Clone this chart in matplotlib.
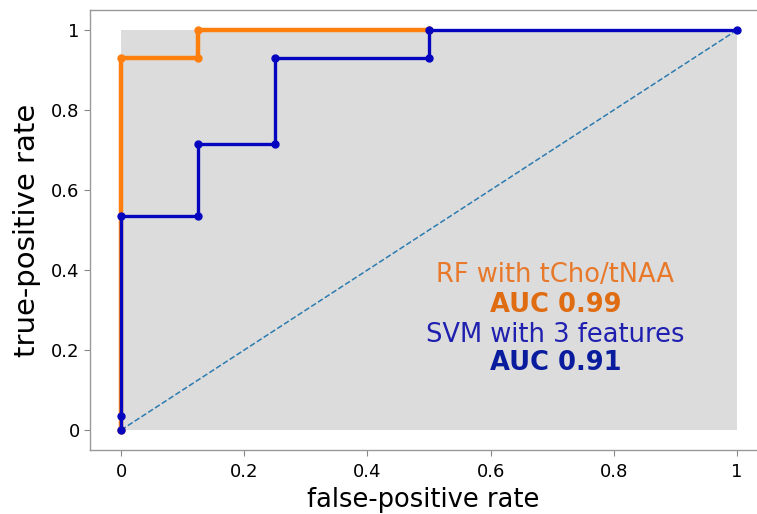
import matplotlib
matplotlib.use("Agg")
import matplotlib.pyplot as plt
from matplotlib.patches import Rectangle

# ROC points
rf_fpr = [0, 0, 0.125, 0.125, 0.5]
rf_tpr = [0, 0.929, 0.929, 1.0, 1.0]

svm_fpr = [0, 0, 0, 0.125, 0.125, 0.25, 0.25, 0.5, 0.5, 1.0]
svm_tpr = [0, 0.036, 0.536, 0.536, 0.714, 0.714, 0.929, 0.929, 1.0, 1.0]

ticks = [0, 0.2, 0.4, 0.6, 0.8, 1.0]
tick_labels = ["0", "0.2", "0.4", "0.6", "0.8", "1"]

notes = ["RF with tCho/tNAA", "AUC 0.99", "SVM with 3 features", "AUC 0.91"]
note_y = [0.3875, 0.3125, 0.2375, 0.1675]
note_col = ["#e8782a", "#e06c12", "#2020b0", "#0a1c9e"]
note_wt = ["normal", "bold", "normal", "bold"]

fig = plt.figure(figsize=(7.57, 5.14), dpi=100)
# the original figure is cut off on the right, so the axes run to the edge
ax = fig.add_axes([0.119, 0.1245, 0.881, 0.856])

ax.add_patch(Rectangle((0, 0), 1, 1, facecolor="#dcdcdc", edgecolor="none", zorder=0))
ax.plot([0, 1], [0, 1], ls="--", color="#2b7bb0", lw=1.1, zorder=1)
ax.plot(rf_fpr, rf_tpr, color="#ff7f0e", lw=3.2, marker="o", ms=5, zorder=2)
ax.plot(svm_fpr, svm_tpr, color="#0505c0", lw=2.4, marker="o", ms=5, zorder=3)

for txt, yy, c, w in zip(notes, note_y, note_col, note_wt):
    ax.text(0.705, yy, txt, color=c, fontweight=w, fontsize=18.5,
            ha="center", va="center", zorder=4)

ax.set_xlim(-0.0503, 1.0325)
ax.set_ylim(-0.05, 1.05)
ax.set_xticks(ticks)
ax.set_xticklabels(tick_labels, fontsize=13)
ax.set_yticks(ticks)
ax.set_yticklabels(tick_labels, fontsize=13)
ax.tick_params(colors="#888888", labelcolor="black", length=4, width=0.8)
ax.tick_params(axis="x", pad=5)

for s in ax.spines.values():
    s.set_color("#999999")
    s.set_linewidth(1.0)
ax.spines["right"].set_visible(False)

ax.set_xlabel("false-positive rate", fontsize=18.5, labelpad=5)
ax.set_ylabel("true-positive rate", fontsize=21, labelpad=7)

fig.savefig("out.png", dpi=100)
